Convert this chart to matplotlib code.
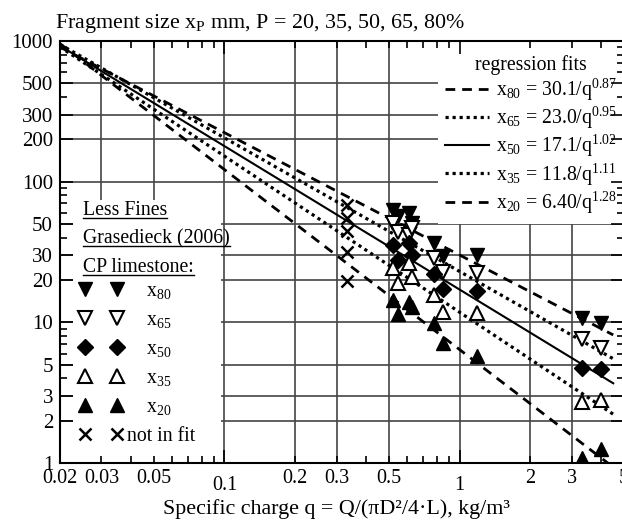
import numpy as np
import matplotlib
matplotlib.use("Agg")
import matplotlib.pyplot as plt
from matplotlib.lines import Line2D
from matplotlib.patches import Rectangle
from matplotlib.ticker import FixedLocator, FixedFormatter, FuncFormatter, NullFormatter

plt.rcParams['font.family'] = ['Liberation Serif', 'DejaVu Serif']
plt.rcParams['mathtext.fontset'] = 'custom'
plt.rcParams['mathtext.rm'] = 'Liberation Serif'
plt.rcParams['mathtext.it'] = 'Liberation Serif:italic'
plt.rcParams['mathtext.bf'] = 'Liberation Serif:bold'

FS_TICK = 14.5
FS_LEG = 14.2
FS_BIG = 15.8

# regression fits  x_P = a / q^b
fit_p = ['80', '65', '50', '35', '20']
fit_a = [30.1, 23.0, 17.1, 11.8, 6.40]
fit_b = [0.87, 0.95, 1.02, 1.11, 1.28]
fit_a_txt = ['30.1', '23.0', '17.1', '11.8', '6.40']
fit_q = [0.02, 4.5]

# measured blasts (specific charge kg/m3) and fragment sizes in mm
q_blast = [0.52, 0.545, 0.61, 0.625, 0.78, 0.85, 1.19, 3.3, 4.0]
x80 = [63.0, 57.0, 60.0, 51.0, 36.6, 29.6, 30.1, 10.7, 9.9]
x65 = [50.8, 43.8, 41.7, 46.8, 28.7, 22.8, 22.4, 7.6, 6.6]
x50 = [35.4, 27.7, 36.6, 30.1, 22.0, 17.2, 16.7, 4.73, 4.66]
x35 = [24.3, 19.0, 26.4, 21.0, 15.6, 11.8, 11.6, 2.71, 2.80]
x20 = [14.4, 11.5, 13.9, 12.8, 9.9, 7.1, 5.76, 1.08, 1.26]

# blast not used in the fit
q_excl = [0.333, 0.333, 0.333, 0.333, 0.333]
x_excl = [68.2, 55.1, 44.5, 31.6, 19.7]

x_labeled = [0.02, 0.03, 0.05, 0.2, 0.3, 0.5, 2, 3, 5]
x_unlabeled = [0.04, 0.06, 0.07, 0.08, 0.09, 0.4, 0.6, 0.7, 0.8, 0.9, 4]
x_grid = [0.03, 0.05, 0.1, 0.2, 0.3, 0.5, 1, 2, 3]
y_labeled = [1, 2, 3, 5, 10, 20, 30, 50, 100, 200, 300, 500, 1000]
y_unlabeled = [4, 6, 7, 8, 9, 40, 60, 70, 80, 90, 400, 600, 700, 800, 900]
y_grid = [2, 3, 5, 10, 20, 30, 50, 100, 200, 300, 500]

fig = plt.figure(figsize=(6.22, 5.22), dpi=100)
ax = fig.add_axes([60 / 622, 59 / 522, 564 / 622, 422 / 522])
ax.set_xscale('log')
ax.set_yscale('log')
ax.set_xlim(0.02, 5)
ax.set_ylim(1, 1000)

for g in x_grid:
    ax.axvline(g, color='#444444', lw=1.2, zorder=0.5)
for g in y_grid:
    ax.axhline(g, color='#444444', lw=1.2, zorder=0.5)

# white boxes behind the two legends
ax.add_patch(Rectangle((0.023, 0.003), 0.262, 0.62, transform=ax.transAxes,
                       facecolor='white', edgecolor='none', zorder=1))
ax.add_patch(Rectangle((0.670, 0.566), 0.34, 0.434, transform=ax.transAxes,
                       facecolor='white', edgecolor='none', zorder=1))

# ticks
ax.xaxis.set_major_locator(FixedLocator([0.1, 1]))
ax.xaxis.set_major_formatter(FixedFormatter(['0.1', '1']))
ax.xaxis.set_minor_locator(FixedLocator(sorted(x_labeled + x_unlabeled)))
ax.xaxis.set_minor_formatter(FuncFormatter(lambda v, p: ('%g' % v) if any(abs(v - t) < 1e-9 for t in x_labeled) else ''))
ax.yaxis.set_major_locator(FixedLocator(y_labeled))
ax.yaxis.set_major_formatter(FixedFormatter([str(v) for v in y_labeled]))
ax.yaxis.set_minor_locator(FixedLocator(y_unlabeled))
ax.yaxis.set_minor_formatter(NullFormatter())
ax.tick_params(which='both', direction='in', top=True, right=True, labelsize=FS_TICK, width=1.2)
ax.tick_params(which='major', length=9.5)
ax.tick_params(which='minor', length=5)
ax.tick_params(axis='x', which='minor', pad=4)
ax.tick_params(axis='x', which='major', pad=9)
ax.tick_params(axis='y', which='major', pad=5)
ax.tick_params(axis='y', which='major', labelsize=15)
for s in ax.spines.values():
    s.set_linewidth(1.5)

# regression lines
styles = [(0, (3.5, 2.5)), (0, (1, 1.2)), '-', (0, (1, 1.2)), (0, (3.5, 2.5))]
widths = [2.0, 2.3, 1.5, 2.3, 2.0]
q_line = np.array(fit_q)
fit_handles = []
for p, a, b, at, ls, w in zip(fit_p, fit_a, fit_b, fit_a_txt, styles, widths):
    ln, = ax.plot(q_line, a / q_line ** b, color='black', ls=ls, lw=w, zorder=2,
                  label=r'x$_{%s}$ = %s/q$^{%.2f}$' % (p, at, b))
    fit_handles.append(ln)

# measured points
mk = dict(ls='none', color='black', mec='black', zorder=3)
series = [
    (x80, dict(marker='v', ms=10, mfc='black'), r'    x$_{80}$'),
    (x65, dict(marker='v', ms=10, mfc='white', mew=1.5), r'    x$_{65}$'),
    (x50, dict(marker='D', ms=8, mfc='black'), r'    x$_{50}$'),
    (x35, dict(marker='^', ms=10, mfc='white', mew=1.5), r'    x$_{35}$'),
    (x20, dict(marker='^', ms=10, mfc='black'), r'    x$_{20}$'),
]
pt_handles = []
for vals, st, lab in series:
    h, = ax.plot(q_blast, vals, label=lab, **mk, **st)
    pt_handles.append(h)
h, = ax.plot(q_excl, x_excl, marker='x', ms=9, mew=1.8, label='not in fit', **mk)
pt_handles.append(h)

leg1 = ax.legend(handles=fit_handles, loc='upper left', bbox_to_anchor=(0.683, 0.967),
                 frameon=False, fontsize=FS_LEG, title='regression fits', title_fontsize=FS_LEG,
                 handlelength=2.2, handletextpad=0.35, labelspacing=0.1, borderpad=0,
                 borderaxespad=0)
leg1.set_zorder(5)
ax.add_artist(leg1)

leg2 = ax.legend(handles=pt_handles, loc='upper left', bbox_to_anchor=(0.033, 0.428),
                 frameon=False, fontsize=FS_LEG, numpoints=2, handlelength=2.25,
                 handletextpad=0.2, labelspacing=0.5, borderpad=0, borderaxespad=0)
leg2.set_zorder(5)

# underlined header of the left legend
heads = ['Less Fines', 'Grasedieck (2006)', 'CP limestone:']
head_y = [215, 243, 272]
head_txt = []
for s, yp in zip(heads, head_y):
    t = ax.text(0.041, (463 - yp) / 422, s, transform=ax.transAxes, fontsize=FS_LEG,
                va='baseline', ha='left', zorder=6)
    head_txt.append(t)

fig.text(55 / 622, 1 - 28 / 522,
         r'Fragment size x$_\mathrm{P}$ mm, P = 20, 35, 50, 65, 80%',
         fontsize=FS_BIG, ha='left', va='baseline')
ax.set_xlabel('Specific charge q = Q/(\u03c0D\u00b2/4\u00b7L), kg/m\u00b3', fontsize=FS_BIG)
ax.xaxis.set_label_coords(0.49, -0.085)

fig.canvas.draw()
r = fig.canvas.get_renderer()
for t in head_txt:
    bb = t.get_window_extent(renderer=r)
    base = t.get_transform().transform(t.get_position())[1]
    fig.add_artist(Line2D([bb.x0, bb.x1], [base - 2.5, base - 2.5], transform=None,
                          color='black', lw=1.0, zorder=6))

fig.savefig('out.png', dpi=100)
